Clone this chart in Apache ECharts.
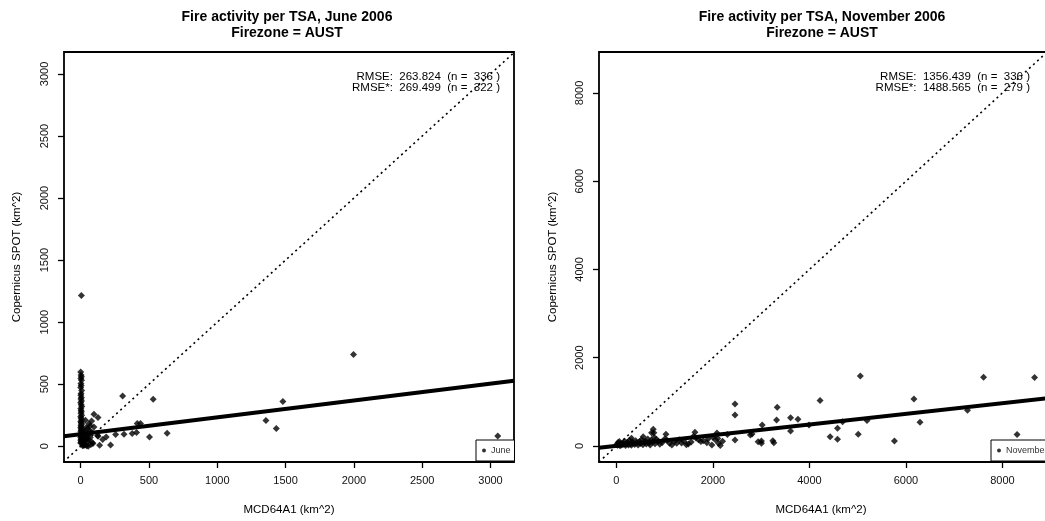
<!DOCTYPE html>
<html>
<head>
<meta charset="utf-8">
<script src="https://cdn.jsdelivr.net/npm/echarts@6/dist/echarts.min.js"></script>
<style>html,body{margin:0;padding:0;background:#fff;}#c{width:1045px;height:521px;}</style>
</head>
<body>
<div id="c"></div>
<script>
// ---------- data ----------
const juneX = [5,307,531,97,127,80,161,139,219,187,256,317,377,409,414,438,504,633,1356,1432,1480,1997,3053,127,97,124,
  0,3,5,1,6,2,4,0,7,3,1,5,2,6,0,4,8,1,3,5,2,7,0,4,6,1,3,8,2,5,0,7,4,1,6,3,9,2,5,0,8,4,1,6,3,0,
  20,25,30,45,55,35,60,70,40,50,65,80,30,45,55,25,70,40,60,35,50,85,90,75,20,15,22,18,28,12];
const juneY = [1215,405,379,258,231,204,54,8,10,75,94,97,102,110,183,183,75,105,207,143,360,740,83,81,156,86,
  599,575,560,545,532,505,490,473,450,425,411,392,380,365,350,335,320,305,290,278,265,250,238,225,212,200,190,180,170,160,150,140,130,120,110,100,92,85,78,70,62,55,48,40,33,26,20,14,8,3,0,
  210,180,165,150,140,120,115,105,95,88,75,70,62,55,45,38,30,22,15,8,3,120,95,50,130,260,300,240,200,330];
const novX = [2458,2458,2458,3333,3319,3610,3763,3610,763,777,1027,1628,2083,2777,2812,3021,2937,3006,3006,3242,3263,4221,4429,4583,4583,5055,5013,5194,5763,6167,6292,7277,7610,8304,8667,3992,4688,555,313,1250,1492,1875,1979,2117,2152,1750,729,
  10,20,35,50,60,75,90,110,130,150,170,190,210,230,250,270,290,310,330,350,380,400,420,450,480,500,520,550,580,600,620,650,680,700,720,750,780,800,830,870,900,950,1000,1050,1100,1150,1200,1300,1350,1400,1450,1550,1600,1650,1700,1800,1900,2000,2050,2100,2200,2300];
const novY = [951,702,136,876,589,641,604,340,378,301,268,312,294,249,272,475,97,61,113,120,75,1030,211,400,151,1585,268,580,113,1064,540,808,1555,260,1551,475,550,211,174,61,45,75,23,61,10,100,301,
  40,15,80,30,100,5,55,20,70,40,110,10,60,85,25,130,50,15,95,60,35,120,75,20,100,55,140,30,85,110,45,160,70,20,130,90,200,50,150,110,40,80,160,130,60,20,95,140,70,110,30,90,220,180,140,120,160,200,140,170,110,260];
const juneXTicks = [0,500,1000,1500,2000,2500,3000];
const juneYTicks = [0,500,1000,1500,2000,2500,3000];
const novXTicks = [0,2000,4000,6000,8000];
const novYTicks = [0,2000,4000,6000,8000];
const juneFit = {intercept: 97, slope: 0.136};
const novFit = {intercept: 5, slope: 0.1205};
const titles = ['Fire activity per TSA, June 2006\nFirezone = AUST', 'Fire activity per TSA, November 2006\nFirezone = AUST'];
const rmseJune = ['RMSE:  263.824  (n =  336 )', 'RMSE*:  269.499  (n =  322 )'];
const rmseNov = ['RMSE:  1356.439  (n =  336 )', 'RMSE*:  1488.565  (n =  279 )'];
const xName = 'MCD64A1 (km^2)';
const yName = 'Copernicus SPOT (km^2)';

// ---------- layout ----------
const FF = '"Liberation Sans", Arial, Helvetica, sans-serif';
const ranges = [
  {x: [-122, 3172], y: [-127, 3177]},
  {x: [-361, 9360], y: [-363, 8929]}
];
const zip = (a, b) => a.map((v, i) => [v, b[i]]);
const plain = v => String(v);

function xAxisCfg(gi, r, ticks) {
  return {
    gridIndex: gi, type: 'value', min: r[0], max: r[1],
    splitLine: {show: false},
    axisLine: {show: false, onZero: false},
    axisTick: {show: true, inside: false, length: 6, lineStyle: {color: '#000', width: 1.3}, customValues: ticks},
    axisLabel: {customValues: ticks, formatter: plain, margin: 13, fontSize: 11, color: '#111', fontFamily: FF}
  };
}
function yAxisCfg(gi, r, ticks) {
  return {
    gridIndex: gi, type: 'value', min: r[0], max: r[1],
    splitLine: {show: false},
    axisLine: {show: false, onZero: false},
    axisTick: {show: true, inside: false, length: 6, lineStyle: {color: '#000', width: 1.3}, customValues: ticks},
    axisLabel: {customValues: ticks, formatter: plain, rotate: 90, margin: 14, fontSize: 11, color: '#111', fontFamily: FF}
  };
}
function fitLine(fit, r) {
  return [[r.x[0], fit.intercept + fit.slope * r.x[0]], [r.x[1], fit.intercept + fit.slope * r.x[1]]];
}
function idLine(r) {
  const lo = Math.min(r.x[0], r.y[0]), hi = Math.max(r.x[1], r.y[1]);
  return [[lo, lo], [hi, hi]];
}
function txt(x, y, text, opts) {
  return Object.assign({type: 'text', x: x, y: y, silent: true,
    style: Object.assign({text: text, fill: '#000', fontFamily: FF, fontSize: 11.5, align: 'center', verticalAlign: 'middle'}, opts || {})});
}

const chart = echarts.init(document.getElementById('c'), null, {renderer: 'canvas'});
chart.setOption({
  animation: false,
  backgroundColor: '#fff',
  grid: [
    {left: 64, top: 52, width: 450, height: 410, show: true, borderColor: '#000', borderWidth: 1.8, backgroundColor: 'transparent', outerBoundsMode: 'none', containLabel: false},
    {left: 599, top: 52, width: 469, height: 410, show: true, borderColor: '#000', borderWidth: 1.8, backgroundColor: 'transparent', outerBoundsMode: 'none', containLabel: false}
  ],
  xAxis: [xAxisCfg(0, ranges[0].x, juneXTicks), xAxisCfg(1, ranges[1].x, novXTicks)],
  yAxis: [yAxisCfg(0, ranges[0].y, juneYTicks), yAxisCfg(1, ranges[1].y, novYTicks)],
  legend: [
    {data: ['June'], left: 476, top: 440, orient: 'horizontal', icon: 'circle', itemWidth: 4, itemHeight: 4,
     padding: [6, 4, 6, 6], borderColor: '#000', borderWidth: 1, backgroundColor: '#fff', borderRadius: 0,
     textStyle: {fontSize: 9, color: '#333', fontFamily: FF}, selectedMode: false},
    {data: ['November'], left: 991, top: 440, orient: 'horizontal', icon: 'circle', itemWidth: 4, itemHeight: 4,
     padding: [6, 4, 6, 6], borderColor: '#000', borderWidth: 1, backgroundColor: '#fff', borderRadius: 0,
     textStyle: {fontSize: 9, color: '#333', fontFamily: FF}, selectedMode: false}
  ],
  series: [
    {name: 'June', type: 'scatter', xAxisIndex: 0, yAxisIndex: 0, data: zip(juneX, juneY),
     symbol: 'diamond', symbolSize: 7, itemStyle: {color: '#000'}, z: 2},
    {name: 'june-id', type: 'line', xAxisIndex: 0, yAxisIndex: 0, data: idLine(ranges[0]), symbol: 'none',
     lineStyle: {color: '#000', width: 1.6, type: [2, 3.5]}, z: 3, silent: true},
    {name: 'june-fit', type: 'line', xAxisIndex: 0, yAxisIndex: 0, data: fitLine(juneFit, ranges[0]), symbol: 'none',
     lineStyle: {color: '#000', width: 4}, z: 3, silent: true},
    {name: 'November', type: 'scatter', xAxisIndex: 1, yAxisIndex: 1, data: zip(novX, novY),
     symbol: 'diamond', symbolSize: 7, itemStyle: {color: '#000'}, z: 2},
    {name: 'nov-id', type: 'line', xAxisIndex: 1, yAxisIndex: 1, data: idLine(ranges[1]), symbol: 'none',
     lineStyle: {color: '#000', width: 1.6, type: [2, 3.5]}, z: 3, silent: true},
    {name: 'nov-fit', type: 'line', xAxisIndex: 1, yAxisIndex: 1, data: fitLine(novFit, ranges[1]), symbol: 'none',
     lineStyle: {color: '#000', width: 4}, z: 3, silent: true}
  ],
  graphic: [
    txt(287, 25, titles[0], {fontSize: 14, fontWeight: 'bold', lineHeight: 16}),
    txt(822, 25, titles[1], {fontSize: 14, fontWeight: 'bold', lineHeight: 16}),
    txt(500, 77, rmseJune[0], {align: 'right'}),
    txt(500, 88, rmseJune[1], {align: 'right'}),
    txt(1030, 77, rmseNov[0], {align: 'right'}),
    txt(1030, 88, rmseNov[1], {align: 'right'}),
    txt(289, 510, xName),
    txt(821, 510, xName),
    Object.assign(txt(17, 257, yName), {rotation: Math.PI / 2}),
    Object.assign(txt(553, 257, yName), {rotation: Math.PI / 2})
  ]
});
</script>
</body>
</html>
